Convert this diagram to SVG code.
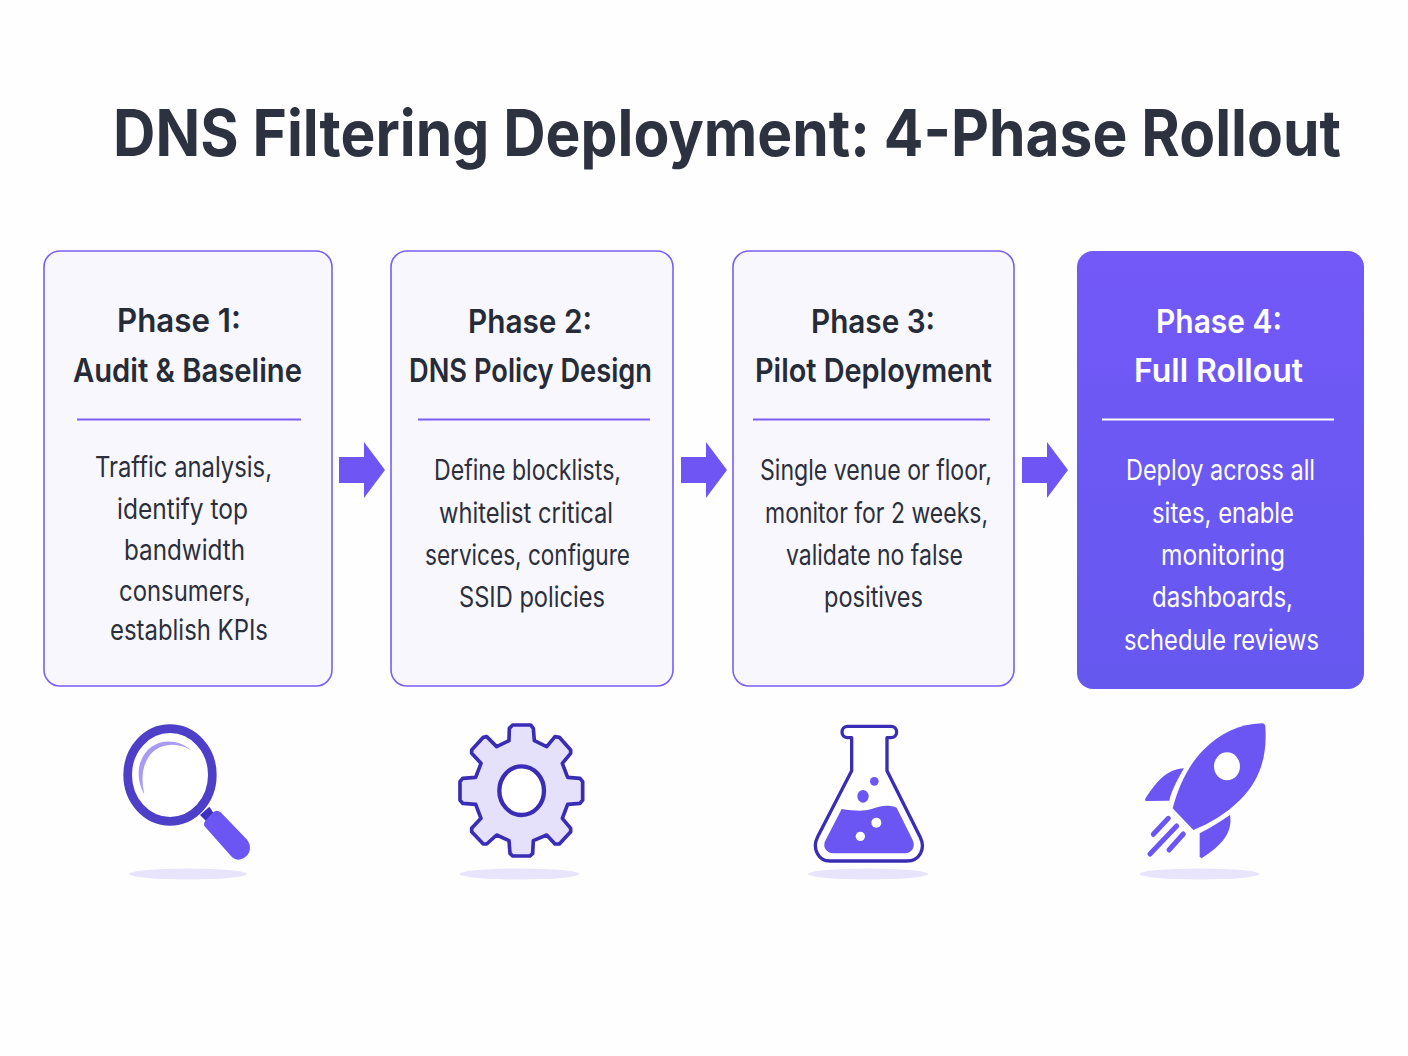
<svg xmlns="http://www.w3.org/2000/svg" width="1408" height="1056" viewBox="0 0 1408 1056">
<style>
text{font-family:Inter,"Liberation Sans",sans-serif;text-anchor:middle}
.title{font-size:64px;font-weight:700;fill:#2d3240}
.h{font-size:33px;font-weight:600;fill:#262b38}
.b{font-size:28px;font-weight:400;fill:#2b2f3b}
.card{fill:#f8f7fe;stroke:#7a5ef5;stroke-width:1.600}
.rule{stroke:#7a5ef5;stroke-width:2}
.w text{fill:#fff}
.w .h{fill:#fff}
.shadow{fill:#e8e4fb}
.arrow{fill:#6f55f3}
.ico{fill:#6b56f3}
</style>
<defs>
<linearGradient id="g4" x1="0" y1="0" x2="0" y2="1"><stop offset="0" stop-color="#7359f8"/><stop offset="1" stop-color="#6558ef"/></linearGradient>
</defs>
<rect width="1408" height="1056" fill="#fefefe"/>
<text id="title" class="title" x="0" y="0" transform="translate(727,156) scale(.9,1)" textLength="1364.400" lengthAdjust="spacingAndGlyphs">DNS Filtering Deployment: 4-Phase Rollout</text>
<g id="connectors">
<path class="arrow" d="M339,457H364V442L385,470L364,498V483H339Z"/>
<path class="arrow" d="M681,457H706V442L727,470L706,498V483H681Z"/>
<path class="arrow" d="M1022,457H1047V442L1068,470L1047,498V483H1022Z"/>
</g>
<g id="phase1">
<rect class="card" x="44" y="251" width="288" height="435" rx="16"/>
<text class="h" x="179" y="332" textLength="124" lengthAdjust="spacingAndGlyphs">Phase 1:</text>
<text class="h" x="187.500" y="382" textLength="229" lengthAdjust="spacingAndGlyphs">Audit &amp; Baseline</text>
<line class="rule" x1="77" y1="419.500" x2="301" y2="419.500"/>
<text class="b" x="183.500" y="477" textLength="177" lengthAdjust="spacingAndGlyphs">Traffic analysis,</text>
<text class="b" x="182.500" y="519" textLength="131" lengthAdjust="spacingAndGlyphs">identify top</text>
<text class="b" x="184.500" y="560" textLength="121" lengthAdjust="spacingAndGlyphs">bandwidth</text>
<text class="b" x="185" y="601" textLength="132" lengthAdjust="spacingAndGlyphs">consumers,</text>
<text class="b" x="189" y="640" textLength="158" lengthAdjust="spacingAndGlyphs">establish KPIs</text>
</g>
<g id="phase2">
<rect class="card" x="391" y="251" width="282" height="435" rx="16"/>
<text class="h" x="530" y="333" textLength="124" lengthAdjust="spacingAndGlyphs">Phase 2:</text>
<text class="h" x="530.500" y="382" textLength="243" lengthAdjust="spacingAndGlyphs">DNS Policy Design</text>
<line class="rule" x1="418" y1="419.500" x2="650" y2="419.500"/>
<text class="b" x="527.500" y="480" textLength="187" lengthAdjust="spacingAndGlyphs">Define blocklists,</text>
<text class="b" x="526" y="523" textLength="174" lengthAdjust="spacingAndGlyphs">whitelist critical</text>
<text class="b" x="527.500" y="565" textLength="205" lengthAdjust="spacingAndGlyphs">services, configure</text>
<text class="b" x="532" y="607" textLength="146" lengthAdjust="spacingAndGlyphs">SSID policies</text>
</g>
<g id="phase3">
<rect class="card" x="733" y="251" width="281" height="435" rx="16"/>
<text class="h" x="873" y="333" textLength="124" lengthAdjust="spacingAndGlyphs">Phase 3:</text>
<text class="h" x="873.500" y="382" textLength="237" lengthAdjust="spacingAndGlyphs">Pilot Deployment</text>
<line class="rule" x1="753" y1="419.500" x2="990" y2="419.500"/>
<text class="b" x="876" y="480" textLength="232" lengthAdjust="spacingAndGlyphs">Single venue or floor,</text>
<text class="b" x="876.500" y="523" textLength="223" lengthAdjust="spacingAndGlyphs">monitor for 2 weeks,</text>
<text class="b" x="874.500" y="565" textLength="177" lengthAdjust="spacingAndGlyphs">validate no false</text>
<text class="b" x="873.500" y="607" textLength="99" lengthAdjust="spacingAndGlyphs">positives</text>
</g>
<g id="phase4" class="w">
<rect x="1077" y="251" width="287" height="438" rx="16" fill="url(#g4)"/>
<text class="h" x="1219" y="333" textLength="126" lengthAdjust="spacingAndGlyphs">Phase 4:</text>
<text class="h" x="1218.500" y="382" textLength="169" lengthAdjust="spacingAndGlyphs">Full Rollout</text>
<line x1="1102" y1="419.500" x2="1334" y2="419.500" stroke="#fff" stroke-width="2"/>
<text class="b" x="1220.500" y="480" textLength="189" lengthAdjust="spacingAndGlyphs">Deploy across all</text>
<text class="b" x="1223" y="523" textLength="142" lengthAdjust="spacingAndGlyphs">sites, enable</text>
<text class="b" x="1223" y="565" textLength="124" lengthAdjust="spacingAndGlyphs">monitoring</text>
<text class="b" x="1222.500" y="607" textLength="141" lengthAdjust="spacingAndGlyphs">dashboards,</text>
<text class="b" x="1221.500" y="650" textLength="195" lengthAdjust="spacingAndGlyphs">schedule reviews</text>
</g>
<g id="icon-magnifier">
<ellipse class="shadow" cx="188" cy="874" rx="59" ry="5.500"/>
<g transform="translate(100,700) scale(.33333)">
<path d="M300,345L328,320L345,345L320,365Z" fill="#3f30c0"/>
<ellipse cx="210" cy="225" rx="127" ry="139" fill="#fff" stroke="#4e3fc9" stroke-width="26"/>
<path d="M275,152C225,108 145,115 120,190C110,225 120,260 133,283C124,240 124,200 150,165C180,128 235,125 275,152Z" fill="#a99bf2"/>
<path class="ico" d="M313,378Q310,368 318,360L340,337Q350,328 362,337L440,418C458,440 450,465 430,475C415,483 405,478 395,470Z"/>
</g>
</g>
<g id="icon-gear">
<ellipse class="shadow" cx="519.500" cy="874" rx="60" ry="5.500"/>
<g transform="translate(100,700) scale(.33333)">
<path d="M1228,85L1238,75H1292L1300,85L1303,122L1340,140L1365,110L1378,112L1412,150V160L1387,190L1403,232L1440,235L1448,245V300L1440,310L1403,313L1387,355L1412,385V395L1378,432H1365L1340,405L1300,422L1298,460L1290,468H1238L1230,460L1227,422L1190,405L1160,432H1150L1115,395V385L1143,355L1127,313L1088,310L1080,300V245L1088,235L1127,232L1143,190L1115,160V150L1150,112L1160,110L1190,140L1227,122Z" fill="#e6e1fa" stroke="#3a2db5" stroke-width="11" stroke-linejoin="round"/>
<ellipse cx="1265" cy="272" rx="67" ry="73" fill="#fff" stroke="#3a2db5" stroke-width="13"/>
</g>
</g>
<g id="icon-flask">
<ellipse class="shadow" cx="868" cy="874" rx="60" ry="5.500"/>
<g transform="translate(780,700) scale(.33333)">
<path d="M215,113H203a17,17 0 0 1 0,-34H333a17,17 0 0 1 0,34H321V212L420,410C438,445 420,483 380,483H150C115,483 95,445 113,410L215,212Z" fill="#fff" stroke="#3a2db5" stroke-width="10" stroke-linejoin="round"/>
<path class="ico" d="M185,327C220,332 250,335 275,327C300,317 325,313 350,323L398,420C408,440 395,460 375,460H160C140,460 125,440 137,420Z"/>
<circle cx="289" cy="368" r="15" fill="#fff"/>
<circle cx="241" cy="409" r="14" fill="#fff"/>
<circle class="ico" cx="283" cy="244" r="13"/>
<ellipse class="ico" cx="249" cy="289" rx="17" ry="19"/>
</g>
</g>
<g id="icon-rocket">
<ellipse class="shadow" cx="1199.500" cy="874" rx="60" ry="5.500"/>
<g transform="translate(780,700) scale(.33333)">
<path class="ico" d="M1178,325C1195,260 1225,195 1270,150C1320,100 1380,72 1445,70Q1455,70 1456,80C1462,170 1440,240 1380,300C1340,340 1290,370 1240,390Z"/>
<ellipse cx="1341" cy="199" rx="39" ry="42" fill="#fff"/>
<path class="ico" d="M1212,205C1165,208 1135,235 1095,298L1097,303L1168,302C1175,270 1195,235 1212,205Z"/>
<path class="ico" d="M1350,345C1320,365 1290,385 1259,400V470L1265,475C1320,440 1360,400 1350,345Z"/>
<g stroke="#6b56f3" stroke-width="15" stroke-linecap="round">
<line x1="1165" y1="355" x2="1120" y2="403"/>
<line x1="1190" y1="378" x2="1110" y2="462"/>
<line x1="1210" y1="402" x2="1167" y2="450"/>
</g>
</g>
</g>
</svg>
